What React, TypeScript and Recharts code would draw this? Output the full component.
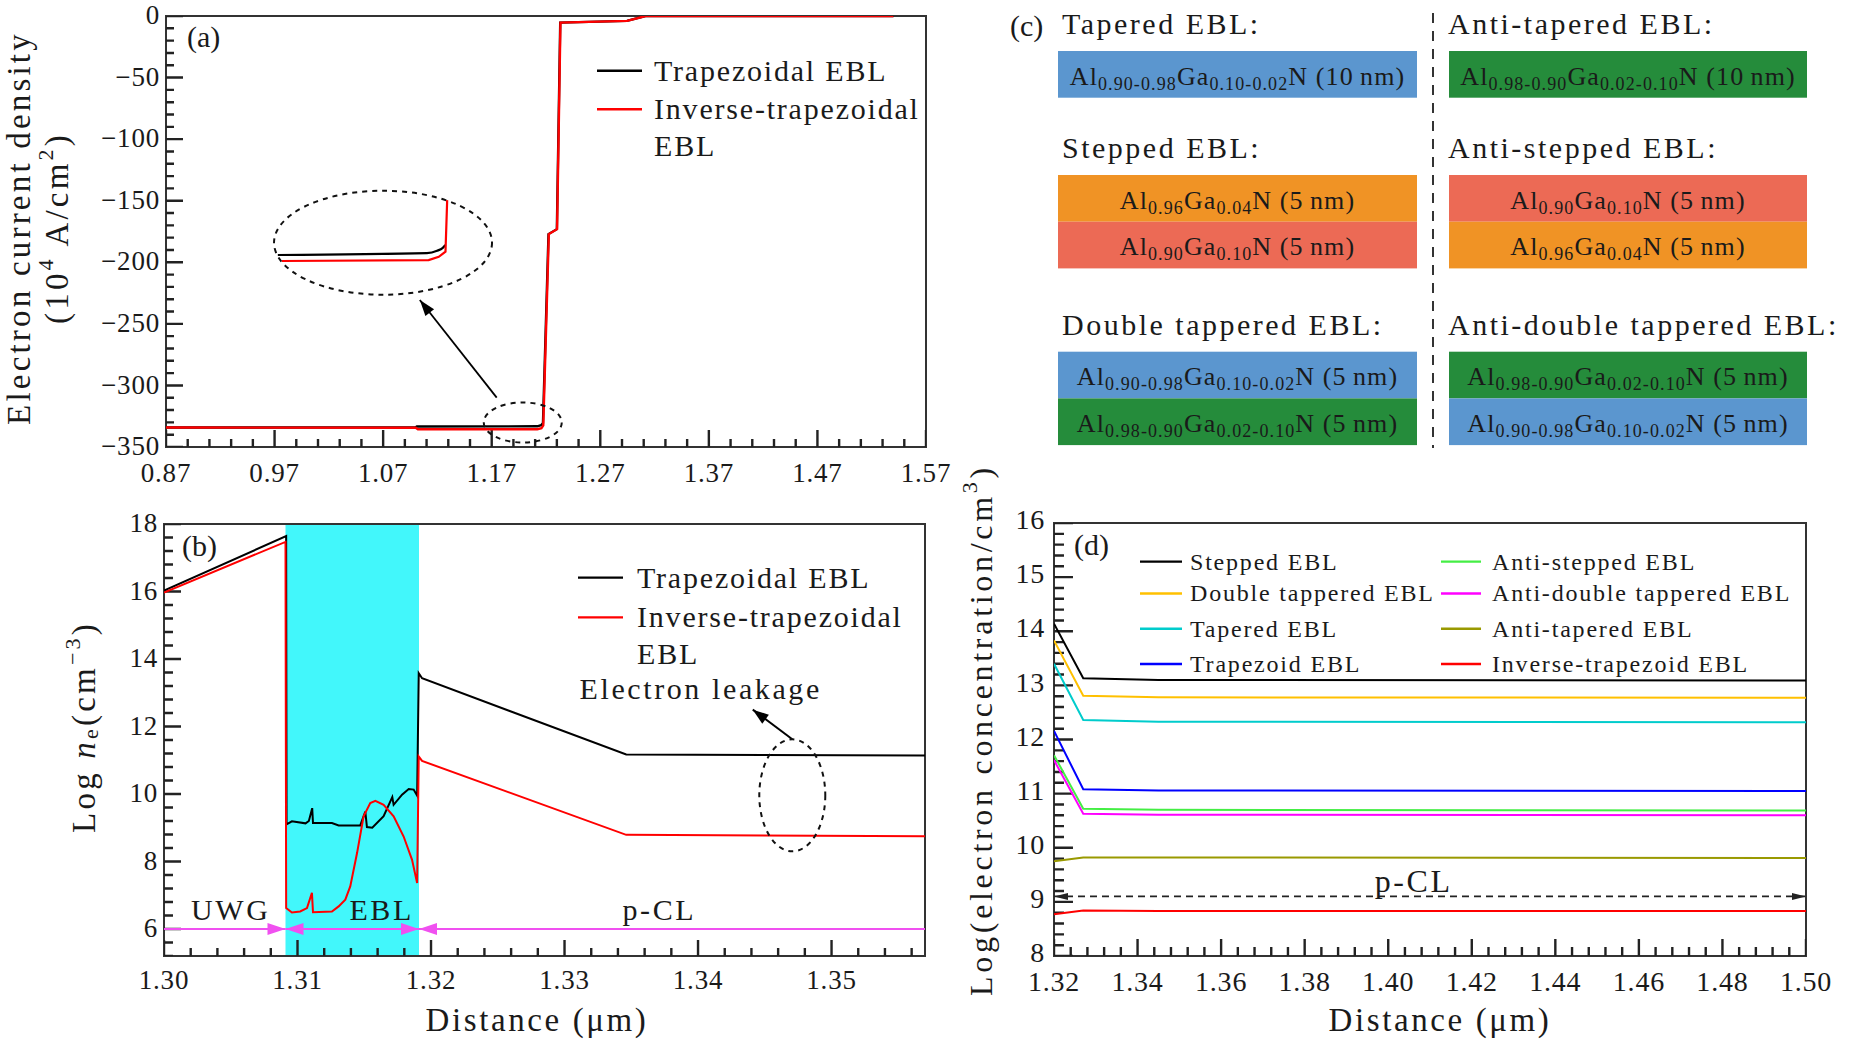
import React from "react";
import { LineChart, Line, XAxis, YAxis, ReferenceArea, ReferenceLine, ReferenceDot } from "recharts";

const W = 1851;
const H = 1042;
const SERIF = "'Liberation Serif', 'DejaVu Serif', serif";
const INK = "#1a1a1a";
const FRAME = "#333333";
const TICK = "#222222";
const MAGENTA = "#f050f0";

// ---- (a) electron current density ----
const aXMajor = [0.87, 0.97, 1.07, 1.17, 1.27, 1.37, 1.47, 1.57];
const aYMajor = [0, -50, -100, -150, -200, -250, -300, -350];
const aTrapX = [0.87, 1.1, 1.101, 1.212, 1.2155, 1.2172, 1.2223, 1.23, 1.2331, 1.2946, 1.3115, 1.54];
const aTrapY = [-334.2, -334.0, -333.4, -333.2, -332.3, -330.5, -177.1, -173.1, -5.4, -4.0, 0, 0];
const aInvX = [0.87, 1.1, 1.102, 1.212, 1.2158, 1.2175, 1.2226, 1.2302, 1.2333, 1.2948, 1.3117, 1.54];
const aInvY = [-334.2, -334.4, -335.6, -335.6, -334.8, -332.5, -177.1, -173.1, -5.4, -4.0, 0, 0];
// magnified view shown inside the dashed ellipse
const insetTrapX = [1.165, 1.2093, 1.2123, 1.214, 1.2148];
const insetTrapY = [-334.0, -333.4, -332.6, -331.6, -330.7];
const insetInvX = [1.1662, 1.2098, 1.2128, 1.2148, 1.2153];
const insetInvY = [-336.0, -335.7, -334.6, -332.9, -315.7];

// ---- (b) electron concentration near the EBL ----
const bXMajor = [1.3, 1.31, 1.32, 1.33, 1.34, 1.35];
const bYMajor = [6, 8, 10, 12, 14, 16, 18];
const bTrapX = [1.3, 1.30915, 1.30918, 1.30958, 1.3106, 1.31085, 1.3111, 1.31116, 1.31258, 1.31308, 1.3147, 1.31508, 1.3152, 1.3156, 1.31645, 1.3171, 1.3172, 1.31783, 1.31833, 1.3187, 1.31896, 1.31908, 1.31933, 1.33462, 1.357];
const bTrapY = [16.03, 17.64, 9.1, 9.19, 9.13, 9.2, 9.58, 9.14, 9.14, 9.07, 9.07, 9.48, 9.02, 9.0, 9.34, 9.91, 9.68, 9.98, 10.15, 10.13, 9.95, 13.58, 13.43, 11.17, 11.14];
const bInvX = [1.3, 1.3091, 1.30915, 1.30958, 1.3102, 1.31071, 1.31108, 1.31116, 1.31258, 1.31308, 1.31358, 1.31395, 1.31446, 1.31495, 1.31545, 1.31583, 1.31645, 1.3172, 1.31795, 1.31858, 1.31896, 1.31908, 1.31933, 1.33462, 1.357];
const bInvY = [15.97, 17.47, 6.62, 6.49, 6.52, 6.62, 7.07, 6.5, 6.52, 6.67, 6.87, 7.26, 8.25, 9.34, 9.73, 9.8, 9.68, 9.34, 8.74, 8.05, 7.36, 11.11, 10.98, 8.79, 8.75];
const bRegionEdges = [1.3, 1.3091, 1.3191, 1.357];
const bRegionNames = ["UWG", "EBL", "p-CL"];
const bRegionLabelX = [1.305, 1.3163, 1.3371];

// ---- (d) electron concentration in p-CL ----
const dXMajor = [1.32, 1.34, 1.36, 1.38, 1.4, 1.42, 1.44, 1.46, 1.48, 1.5];
const dYMajor = [8, 9, 10, 11, 12, 13, 14, 15, 16];
const dX = [1.32, 1.327, 1.345, 1.5];
const dStepped = [14.14, 13.13, 13.1, 13.09];
const dDoubleTapered = [13.83, 12.81, 12.78, 12.77];
const dTapered = [13.4, 12.36, 12.33, 12.32];
const dTrapezoid = [12.16, 11.08, 11.06, 11.05];
const dAntiStepped = [11.71, 10.72, 10.7, 10.69];
const dAntiDouble = [11.62, 10.63, 10.61, 10.6];
const dAntiTapered = [9.75, 9.82, 9.82, 9.81];
const dInvTrapezoid = [8.77, 8.84, 8.83, 8.83];
const dNames = ["Stepped EBL", "Double tappered EBL", "Tapered EBL", "Trapezoid EBL", "Anti-stepped EBL", "Anti-double tappered EBL", "Anti-tapered EBL", "Inverse-trapezoid EBL"];
const dValues = [dStepped, dDoubleTapered, dTapered, dTrapezoid, dAntiStepped, dAntiDouble, dAntiTapered, dInvTrapezoid];
const dColors = ["#000000", "#ffc000", "#00cccc", "#0000ff", "#44ee44", "#ff00ff", "#999900", "#ff0000"];

// ---- (c) layer sketches ----
const cTitlesLeft = ["Tapered EBL:", "Stepped EBL:", "Double tappered EBL:"];
const cTitlesRight = ["Anti-tapered EBL:", "Anti-stepped EBL:", "Anti-double tappered EBL:"];
const cLayersLeft = [
  [["0.90-0.98", "0.10-0.02", "10", "up"]],
  [["0.96", "0.04", "5", "al96"], ["0.90", "0.10", "5", "al90"]],
  [["0.90-0.98", "0.10-0.02", "5", "up"], ["0.98-0.90", "0.02-0.10", "5", "down"]],
];
const cLayersRight = [
  [["0.98-0.90", "0.02-0.10", "10", "down"]],
  [["0.90", "0.10", "5", "al90"], ["0.96", "0.04", "5", "al96"]],
  [["0.98-0.90", "0.02-0.10", "5", "down"], ["0.90-0.98", "0.10-0.02", "5", "up"]],
];
const layerColor: Record<string, string> = { up: "#5b96cf", down: "#258c3b", al96: "#f09325", al90: "#ec6a55" };

const zip = (xs: number[], ys: number[]) => xs.map((x, i) => ({ x, y: ys[i] }));
const steps = (lo: number, hi: number, step: number) => {
  const n = Math.round((hi - lo) / step);
  return Array.from({ length: n + 1 }, (_, i) => Number((lo + i * step).toFixed(4)));
};
const has = (arr: number[], v: number) => arr.some((m) => Math.abs(m - v) < 1e-7);

type TickCfg = { majors: number[]; fmt: (v: number) => string; font: number; gap: number; lift?: number };

const bottomTick = (c: TickCfg) => (p: any) => {
  const v = Number(p.payload.value);
  if (!has(c.majors, v)) return <g />;
  return (
    <text x={p.x} y={Number(p.y) + c.gap} textAnchor="middle" fontFamily={SERIF} fontSize={c.font} letterSpacing={0.8} fill={INK}>
      {c.fmt(v)}
    </text>
  );
};

const leftTick = (c: TickCfg) => (p: any) => {
  const v = Number(p.payload.value);
  if (!has(c.majors, v)) return <g />;
  return (
    <text x={Number(p.x) - c.gap} y={Number(p.y) + c.font * (c.lift ?? 0.3)} textAnchor="end" fontFamily={SERIF} fontSize={c.font} letterSpacing={0.8} fill={INK}>
      {c.fmt(v)}
    </text>
  );
};

// inward tick marks as a broken line series: (start, end, gap) per tick, lengths in data units
type Pt = { x: number; y: number | null };
const xTickMarks = (vals: number[], majors: number[], yLo: number, big: number, small: number): Pt[] =>
  vals.flatMap((v) => {
    const len = has(majors, v) ? big : small;
    return [{ x: v, y: yLo }, { x: v, y: yLo + len }, { x: v, y: null }];
  });
const yTickMarks = (vals: number[], majors: number[], xLo: number, big: number, small: number): Pt[] =>
  vals.flatMap((v) => {
    const len = has(majors, v) ? big : small;
    return [{ x: xLo, y: v }, { x: xLo + len, y: v }, { x: xLo + len, y: null }];
  });

const TickLine = (pts: Pt[]) => (
  <Line data={pts} dataKey="y" type="linear" stroke={TICK} strokeWidth={2.4} dot={false} activeDot={false}
    connectNulls={false} isAnimationActive={false} legendType="none" />
);

const ellipseShape = (rx: number, ry: number) => (p: any) => (
  <ellipse cx={p.cx} cy={p.cy} rx={rx} ry={ry} fill="none" stroke="#111" strokeWidth={2} strokeDasharray="5 5" />
);

const textShape = (label: string, size: number, dy: number) => (p: any) => (
  <text x={p.cx} y={p.cy + dy} textAnchor="middle" fontFamily={SERIF} fontSize={size} letterSpacing={2.6} fill={INK}>
    {label}
  </text>
);

type ArrowCfg = { color: string; width: number; len: number; wide: number; start?: boolean; end?: boolean; dash?: string };
const arrowShape = (a: ArrowCfg) => (p: any) => {
  const x1 = Number(p.x1), y1 = Number(p.y1), x2 = Number(p.x2), y2 = Number(p.y2);
  const ang = Math.atan2(y2 - y1, x2 - x1);
  const head = (x: number, y: number, t: number) => {
    const bx = x - a.len * Math.cos(t), by = y - a.len * Math.sin(t);
    const nx = (-Math.sin(t) * a.wide) / 2, ny = (Math.cos(t) * a.wide) / 2;
    return <polygon points={`${x},${y} ${bx + nx},${by + ny} ${bx - nx},${by - ny}`} fill={a.color} />;
  };
  return (
    <g>
      <line x1={x1} y1={y1} x2={x2} y2={y2} stroke={a.color} strokeWidth={a.width} strokeDasharray={a.dash} />
      {a.end && head(x2, y2, ang)}
      {a.start && head(x1, y1, ang + Math.PI)}
    </g>
  );
};

const fmt2 = (v: number) => v.toFixed(2);
const fmtInt = (v: number) => String(v);
const fmtNeg = (v: number) => (v === 0 ? "0" : "\u2212" + Math.abs(v));

const layer = { position: "absolute" as const, left: 0, top: 0 };
// axes get a 1px box (a 0px box is not drawn at all); margins absorb it
const axisCommon = { type: "number" as const, allowDataOverflow: true, interval: 0 as const, tickSize: 0, tickMargin: 0, axisLine: false, tickLine: false };

function PanelA() {
  const xt = steps(0.87, 1.57, 0.02);
  const yt = steps(-350, 0, 10);
  const yPerPx = 350 / 431;
  const xPerPx = 0.7 / 760;
  return (
    <div style={layer}>
      <LineChart width={W} height={H} margin={{ top: 16, right: W - 926, bottom: H - 448, left: 165 }}>
        <XAxis {...axisCommon} dataKey="x" domain={[0.87, 1.57]} ticks={xt} height={1}
          tick={bottomTick({ majors: aXMajor, fmt: fmt2, font: 27, gap: 35 })} />
        <YAxis {...axisCommon} domain={[-350, 0]} ticks={yt} width={1}
          tick={leftTick({ majors: aYMajor, fmt: fmtNeg, font: 27, gap: 6 })} />
        <ReferenceArea x1={0.87} x2={1.57} y1={-350} y2={0} fill="none" stroke={FRAME} strokeWidth={2} ifOverflow="visible" />
        {TickLine(xTickMarks(xt, aXMajor, -350, 17 * yPerPx, 8 * yPerPx))}
        {TickLine(yTickMarks(yt, aYMajor, 0.87, 17 * xPerPx, 8 * xPerPx))}
        <Line data={zip(aTrapX, aTrapY)} dataKey="y" type="linear" stroke="#000000" strokeWidth={2.4} dot={false} isAnimationActive={false} />
        <Line data={zip(aInvX, aInvY)} dataKey="y" type="linear" stroke="#ff0000" strokeWidth={2.4} dot={false} isAnimationActive={false} />
        <ReferenceDot x={1.0699} y={-184.1} r={0} ifOverflow="visible" shape={ellipseShape(109, 52)} />
        <ReferenceDot x={1.1986} y={-330.1} r={0} ifOverflow="visible" shape={ellipseShape(39, 20)} />
        <ReferenceLine segment={[{ x: 1.1746, y: -309.9 }, { x: 1.1038, y: -230.6 }]} ifOverflow="visible"
          shape={arrowShape({ color: "#000", width: 1.8, len: 16, wide: 11, end: true })} />
      </LineChart>
    </div>
  );
}

function InsetA() {
  return (
    <div style={layer}>
      <LineChart width={W} height={H} margin={{ top: 183, right: W - 463, bottom: H - 273, left: 261 }}>
        <XAxis type="number" dataKey="x" domain={[1.16, 1.22]} allowDataOverflow hide />
        <YAxis type="number" domain={[-340, -310]} allowDataOverflow hide />
        <Line data={zip(insetTrapX, insetTrapY)} dataKey="y" type="monotone" stroke="#000000" strokeWidth={2.2} dot={false} isAnimationActive={false} />
        <Line data={zip(insetInvX, insetInvY)} dataKey="y" type="linear" stroke="#ff0000" strokeWidth={2.2} dot={false} isAnimationActive={false} />
      </LineChart>
    </div>
  );
}

function PanelB() {
  const xt = steps(1.3, 1.356, 0.002);
  const yt = steps(5.2, 18, 0.4);
  const yPerPx = 12.8 / 432;
  const xPerPx = 0.057 / 761;
  return (
    <div style={layer}>
      <LineChart width={W} height={H} margin={{ top: 524, right: W - 925, bottom: H - 957, left: 163 }}>
        <XAxis {...axisCommon} dataKey="x" domain={[1.3, 1.357]} ticks={xt} height={1}
          tick={bottomTick({ majors: bXMajor, fmt: fmt2, font: 27, gap: 33 })} />
        <YAxis {...axisCommon} domain={[5.2, 18]} ticks={yt} width={1}
          tick={leftTick({ majors: bYMajor, fmt: fmtInt, font: 27, gap: 6 })} />
        <ReferenceArea x1={bRegionEdges[1]} x2={bRegionEdges[2]} fill="#42f7fb" fillOpacity={1} stroke="none" ifOverflow="visible" />
        <ReferenceArea x1={1.3} x2={1.357} y1={5.2} y2={18} fill="none" stroke={FRAME} strokeWidth={2} ifOverflow="visible" />
        {TickLine(xTickMarks(xt, bXMajor, 5.2, 16 * yPerPx, 8 * yPerPx))}
        {TickLine(yTickMarks(yt, bYMajor, 1.3, 17 * xPerPx, 9 * xPerPx))}
        <ReferenceLine segment={[{ x: bRegionEdges[0], y: 6 }, { x: bRegionEdges[1], y: 6 }]} ifOverflow="visible"
          shape={arrowShape({ color: MAGENTA, width: 2.2, len: 18, wide: 12, end: true })} />
        <ReferenceLine segment={[{ x: bRegionEdges[1], y: 6 }, { x: bRegionEdges[2], y: 6 }]} ifOverflow="visible"
          shape={arrowShape({ color: MAGENTA, width: 2.2, len: 18, wide: 12, start: true, end: true })} />
        <ReferenceLine segment={[{ x: bRegionEdges[2], y: 6 }, { x: bRegionEdges[3], y: 6 }]} ifOverflow="visible"
          shape={arrowShape({ color: MAGENTA, width: 2.2, len: 18, wide: 12, start: true })} />
        {bRegionNames.map((n, i) => (
          <ReferenceDot key={n} x={bRegionLabelX[i]} y={6} r={0} ifOverflow="visible" shape={textShape(n, 30, -9)} />
        ))}
        <Line data={zip(bTrapX, bTrapY)} dataKey="y" type="linear" stroke="#000000" strokeWidth={2} dot={false} isAnimationActive={false} />
        <Line data={zip(bInvX, bInvY)} dataKey="y" type="linear" stroke="#ff0000" strokeWidth={2} dot={false} isAnimationActive={false} />
        <ReferenceDot x={1.34706} y={9.96} r={0} ifOverflow="visible" shape={ellipseShape(33, 56)} />
        <ReferenceLine segment={[{ x: 1.34706, y: 11.62 }, { x: 1.3441, y: 12.5 }]} ifOverflow="visible"
          shape={arrowShape({ color: "#000", width: 2, len: 16, wide: 11, end: true })} />
        <ReferenceDot x={1.3402} y={13.11} r={0} ifOverflow="visible" shape={textShape("Electron leakage", 30, 10)} />
      </LineChart>
    </div>
  );
}

function PanelD() {
  const xt = steps(1.32, 1.5, 0.004);
  const yt = steps(8, 16, 0.2);
  const yPerPx = 8 / 433;
  const xPerPx = 0.18 / 753;
  return (
    <div style={layer}>
      <LineChart width={W} height={H} margin={{ top: 523, right: W - 1806, bottom: H - 957, left: 1053 }}>
        <XAxis {...axisCommon} dataKey="x" domain={[1.32, 1.5]} ticks={xt} height={1}
          tick={bottomTick({ majors: dXMajor, fmt: fmt2, font: 28, gap: 35 })} />
        <YAxis {...axisCommon} domain={[8, 16]} ticks={yt} width={1}
          tick={leftTick({ majors: dYMajor, fmt: fmtInt, font: 28, gap: 9, lift: 0.22 })} />
        <ReferenceArea x1={1.32} x2={1.5} y1={8} y2={16} fill="none" stroke={FRAME} strokeWidth={2} ifOverflow="visible" />
        {TickLine(xTickMarks(xt, dXMajor, 8, 17 * yPerPx, 9 * yPerPx))}
        {TickLine(yTickMarks(yt, dYMajor, 1.32, 19 * xPerPx, 10 * xPerPx))}
        {dValues.map((vals, i) => (
          <Line key={dNames[i]} data={zip(dX, vals)} dataKey="y" type="linear" stroke={dColors[i]} strokeWidth={2}
            dot={false} isAnimationActive={false} />
        ))}
        <ReferenceLine segment={[{ x: 1.32, y: 9.1 }, { x: 1.5, y: 9.1 }]} ifOverflow="visible"
          shape={arrowShape({ color: "#222", width: 1.8, len: 14, wide: 7, start: true, end: true, dash: "7 5" })} />
        <ReferenceDot x={1.4061} y={9.39} r={0} ifOverflow="visible" shape={textShape("p-CL", 32, 11)} />
      </LineChart>
    </div>
  );
}

function Legend2({ x1, x2, tx, rows, font, spacing }: { x1: number; x2: number; tx: number; rows: { y: number; color?: string; text: string }[]; font: number; spacing: number }) {
  return (
    <g>
      {rows.map((r, i) => (
        <g key={i}>
          {r.color && <line x1={x1} x2={x2} y1={r.y} y2={r.y} stroke={r.color} strokeWidth={2.4} />}
          <text x={tx} y={r.y + font * 0.33} fontFamily={SERIF} fontSize={font} letterSpacing={spacing} fill={INK}>
            {r.text}
          </text>
        </g>
      ))}
    </g>
  );
}

function Formula({ cx, y, al, ga, nm }: { cx: number; y: number; al: string; ga: string; nm: string }) {
  return (
    <text x={cx} y={y} textAnchor="middle" fontFamily={SERIF} fontSize={26} letterSpacing={1.1} fill={INK}>
      Al<tspan dy={5} fontSize={18}>{al}</tspan>
      <tspan dy={-5}>Ga</tspan>
      <tspan dy={5} fontSize={18}>{ga}</tspan>
      <tspan dy={-5}>{`N (${nm}\u2009nm)`}</tspan>
    </text>
  );
}

function PanelC() {
  const rowTop = [51, 175, 351.7];
  const titleY = [34, 158, 335];
  const h = 46.7;
  const cols = [
    { x0: 1058, x1: 1417, tx: 1062, titles: cTitlesLeft, layers: cLayersLeft },
    { x0: 1449, x1: 1807, tx: 1448, titles: cTitlesRight, layers: cLayersRight },
  ];
  return (
    <g>
      <text x={1010} y={36} fontFamily={SERIF} fontSize={30} fill={INK}>(c)</text>
      <line x1={1433} x2={1433} y1={13} y2={448} stroke="#333" strokeWidth={2} strokeDasharray="10 8" />
      {cols.map((c, ci) => (
        <g key={ci}>
          {c.titles.map((t, ri) => (
            <text key={t} x={c.tx} y={titleY[ri]} fontFamily={SERIF} fontSize={30} letterSpacing={2.5} fill={INK}>{t}</text>
          ))}
          {c.layers.map((stack, ri) =>
            stack.map((L, li) => {
              const top = rowTop[ri] + li * h;
              return (
                <g key={`${ri}-${li}`}>
                  <rect x={c.x0} y={top} width={c.x1 - c.x0} height={h} fill={layerColor[L[3]]} />
                  <Formula cx={(c.x0 + c.x1) / 2} y={top + 33.5} al={L[0]} ga={L[1]} nm={L[2]} />
                </g>
              );
            })
          )}
        </g>
      ))}
    </g>
  );
}

function Overlay() {
  const t = { fontFamily: SERIF, fill: INK };
  const dRowsY = [561.6, 593.5, 628.7, 664];
  return (
    <svg width={W} height={H} style={{ position: "absolute", left: 0, top: 0 }}>
      {/* panel tags */}
      <text x={187} y={47} fontSize={30} {...t}>(a)</text>
      <text x={182} y={556} fontSize={30} {...t}>(b)</text>
      <text x={1074} y={555} fontSize={30} {...t}>(d)</text>

      {/* axis titles */}
      <text transform="translate(19,228) rotate(-90)" textAnchor="middle" dominantBaseline="central" fontSize={33} letterSpacing={3.2} {...t}>
        Electron current density
      </text>
      <text transform="translate(57,228) rotate(-90)" textAnchor="middle" dominantBaseline="central" fontSize={33} letterSpacing={3.2} {...t}>
        (10<tspan dy={-12} fontSize={22}>4</tspan>
        <tspan dy={12}> A/cm</tspan>
        <tspan dy={-12} fontSize={22}>2</tspan>
        <tspan dy={12}>)</tspan>
      </text>
      <text transform="translate(84,727) rotate(-90)" textAnchor="middle" dominantBaseline="central" fontSize={33} letterSpacing={3.2} {...t}>
        Log <tspan fontStyle="italic">n</tspan>
        <tspan dy={6} fontSize={22}>e</tspan>
        <tspan dy={-6}>(cm</tspan>
        <tspan dy={-12} fontSize={22}>{"\u22123"}</tspan>
        <tspan dy={12}>)</tspan>
      </text>
      <text transform="translate(981,730) rotate(-90)" textAnchor="middle" dominantBaseline="central" fontSize={32} letterSpacing={3.7} {...t}>
        Log(electron concentration/cm<tspan dy={-12} fontSize={22}>3</tspan>
        <tspan dy={12}>)</tspan>
      </text>
      <text x={537} y={1031} textAnchor="middle" fontSize={33} letterSpacing={2.6} {...t}>Distance (μm)</text>
      <text x={1440} y={1031} textAnchor="middle" fontSize={33} letterSpacing={2.6} {...t}>Distance (μm)</text>

      {/* legends */}
      <Legend2 x1={597} x2={642} tx={654} font={30} spacing={1.8}
        rows={[{ y: 70.7, color: "#000", text: "Trapezoidal EBL" }, { y: 109.3, color: "#ff0000", text: "Inverse-trapezoidal" }, { y: 146, text: "EBL" }]} />
      <Legend2 x1={578} x2={623} tx={637} font={30} spacing={1.8}
        rows={[{ y: 577.6, color: "#000", text: "Trapezoidal EBL" }, { y: 617.4, color: "#ff0000", text: "Inverse-trapezoidal" }, { y: 653.7, text: "EBL" }]} />
      <Legend2 x1={1140} x2={1182} tx={1190} font={24} spacing={1.8}
        rows={[0, 1, 2, 3].map((i) => ({ y: dRowsY[i], color: dColors[i], text: dNames[i] }))} />
      <Legend2 x1={1441} x2={1481} tx={1492} font={24} spacing={1.8}
        rows={[4, 5, 6, 7].map((i) => ({ y: dRowsY[i - 4], color: dColors[i], text: dNames[i] }))} />

      <PanelC />
    </svg>
  );
}

export default function App() {
  return (
    <div style={{ position: "absolute", left: 0, top: 0, width: W, height: H, background: "#ffffff", overflow: "hidden" }}>
      <PanelA />
      <InsetA />
      <PanelB />
      <PanelD />
      <Overlay />
    </div>
  );
}
